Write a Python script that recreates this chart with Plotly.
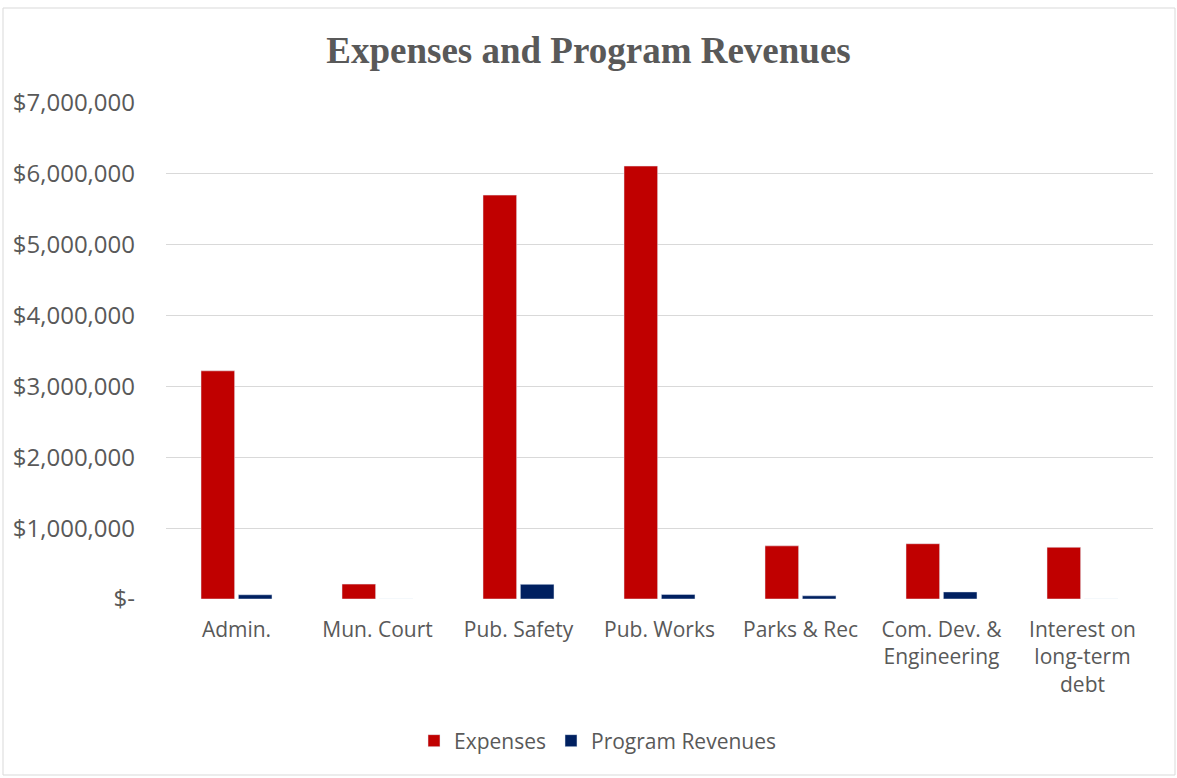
import plotly.graph_objects as go

categories = ["Admin.", "Mun. Court", "Pub. Safety", "Pub. Works", "Parks & Rec",
              "Com. Dev. &<br>Engineering", "Interest on<br>long-term<br>debt"]
expenses = [3220000, 210000, 5700000, 6110000, 750000, 780000, 730000]
program_revenues = [60000, 0, 207000, 65000, 45000, 100000, 0]

tick_vals = [0, 1000000, 2000000, 3000000, 4000000, 5000000, 6000000, 7000000]
tick_text = ["$-", "$1,000,000", "$2,000,000", "$3,000,000", "$4,000,000",
             "$5,000,000", "$6,000,000", "$7,000,000"]

W, H = 1177, 778
ml, mr, mt, mb = 166, 24, 103, 179
pw, ph = W - ml - mr, H - mt - mb

fig = go.Figure()
fig.add_trace(go.Bar(name="Expenses", x=categories, y=expenses, marker_color="#C00000"))
fig.add_trace(go.Bar(name="Program Revenues", x=categories, y=program_revenues, marker_color="#002060"))

fig.update_layout(
    width=W, height=H,
    margin=dict(l=ml, r=mr, t=mt, b=mb, pad=0),
    paper_bgcolor="white", plot_bgcolor="white",
    barmode="group", bargap=0.47, bargroupgap=0.1,
    title=dict(text="<b>Expenses and Program Revenues</b>", x=0.5, xanchor="center",
               y=1 - 50 / H, yanchor="middle",
               font=dict(family="Liberation Serif", size=37, color="#595959")),
    font=dict(family="Open Sans", size=21, color="#595959"),
    legend=dict(orientation="h", x=0.5 - 62 / pw, xanchor="center", y=-(741 - 599) / ph, yanchor="middle",
                font=dict(family="Open Sans", size=21, color="#595959"),
                traceorder="normal", itemwidth=30),
    showlegend=True,
)
fig.update_yaxes(range=[0, 7000000], tickvals=tick_vals, ticktext=tick_text,
                 showgrid=True, gridcolor="#D9D9D9", gridwidth=1, zeroline=False,
                 showline=False, ticks="", ticklabelstandoff=30,
                 tickfont=dict(family="Open Sans", size=24, color="#595959"))
fig.update_xaxes(showgrid=False, showline=False, ticks="", ticklabelstandoff=16,
                 tickfont=dict(family="Open Sans", size=21, color="#595959"))

fig.add_shape(type="rect", xref="paper", yref="paper",
              x0=(3 - ml) / pw, x1=(1175 - ml) / pw,
              y0=(mt + ph - 775) / ph, y1=(mt + ph - 8) / ph,
              line=dict(color="#D9D9D9", width=1), fillcolor="rgba(0,0,0,0)", layer="below")

fig.write_html("out.html")
